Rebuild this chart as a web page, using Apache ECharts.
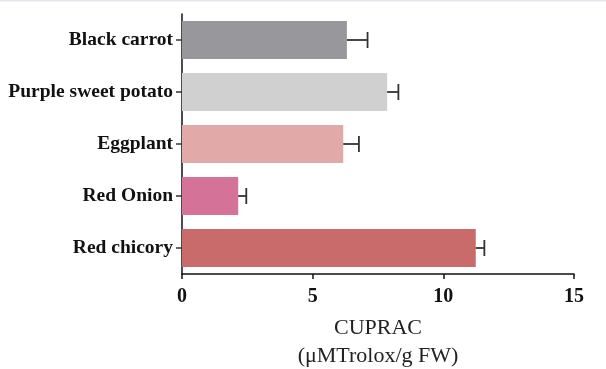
<!DOCTYPE html>
<html><head><meta charset="utf-8">
<script src="https://cdn.jsdelivr.net/npm/echarts@6/dist/echarts.min.js"></script>
<style>html,body{margin:0;padding:0;background:#fff}#c{width:606px;height:369px}</style>
</head><body><div id="c"></div>
<script>
const categories = ['Black carrot','Purple sweet potato','Eggplant','Red Onion','Red chicory'];
const means = [6.31, 7.85, 6.17, 2.15, 11.24];
const errors = [0.79, 0.43, 0.60, 0.31, 0.33];
const barColors = ['#98989c','#d0d0d0','#e2a9a9','#d47397','#c96b6b'];
const xTicks = [0, 5, 10, 15];

const chart = echarts.init(document.getElementById('c'));
const font = '"Liberation Serif","Times New Roman",serif';
chart.setOption({
  animation: false,
  graphic: [{type: 'rect', left: 0, top: 0, shape: {width: 606, height: 1.5}, style: {fill: '#e2e6ed'}, silent: true}],
  grid: {left: 182, right: 32, top: 14, bottom: 95, outerBoundsMode: 'none', containLabel: false},
  xAxis: {
    type: 'value', min: xTicks[0], max: xTicks[xTicks.length-1], interval: 5,
    splitLine: {show: false},
    axisLine: {show: true, lineStyle: {color: '#111', width: 1.5}},
    axisTick: {show: true, length: 5, lineStyle: {color: '#111', width: 1.5}},
    axisLabel: {fontFamily: font, fontWeight: 'bold', fontSize: 20, color: '#111', margin: 13},
    name: 'CUPRAC\n(μMTrolox/g FW)', nameLocation: 'middle', nameGap: 40,
    nameTextStyle: {fontFamily: font, fontSize: 22, color: '#222', lineHeight: 28}
  },
  yAxis: {
    type: 'category', data: categories, inverse: true,
    axisLine: {show: true, lineStyle: {color: '#111', width: 1.5}},
    axisTick: {show: true, alignWithLabel: true, length: 6, lineStyle: {color: '#333', width: 1.5}},
    axisLabel: {fontFamily: font, fontWeight: 'bold', fontSize: 19.5, color: '#111', margin: 9}
  },
  series: [{
    type: 'bar', barWidth: 38,
    data: means.map((v,i)=>({value: v, itemStyle: {color: barColors[i]}})),
    z: 2
  },{
    type: 'custom', z: 3,
    data: means.map((v,i)=>[i, v, v+errors[i]]),
    encode: {y: 0, x: [1,2]},
    renderItem: function(params, api){
      const idx = api.value(0);
      const p1 = api.coord([api.value(1), idx]);
      const p2 = api.coord([api.value(2), idx]);
      const st = {stroke: '#333', lineWidth: 1.8};
      return {type: 'group', children: [
        {type: 'line', shape: {x1: p1[0], y1: p1[1], x2: p2[0], y2: p2[1]}, style: st},
        {type: 'line', shape: {x1: p2[0], y1: p2[1]-8, x2: p2[0], y2: p2[1]+8}, style: st}
      ]};
    }
  }]
});
</script></body></html>
